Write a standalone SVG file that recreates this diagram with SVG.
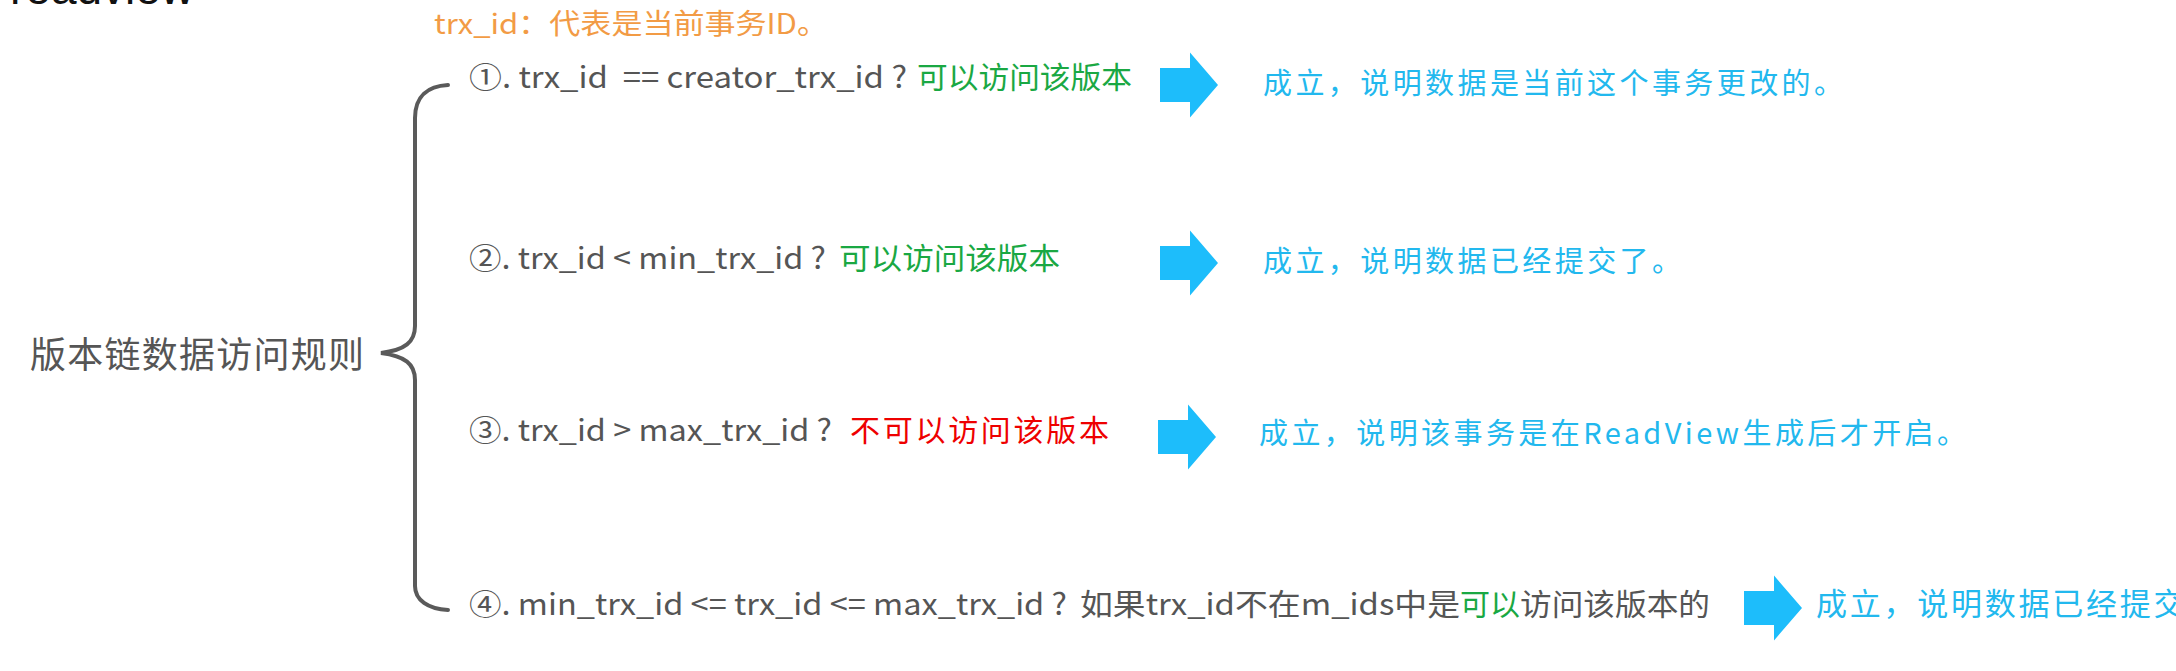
<svg xmlns="http://www.w3.org/2000/svg" width="2176" height="671" viewBox="0 0 2176 671">
<defs>
<style>
text{font-family:"Noto Sans CJK SC","Noto Sans",sans-serif;font-size:30px;white-space:pre;}
.g{fill:#555555;}
.ok{fill:#1aa843;}
.no{fill:#ee0000;}
.b{fill:#22b8ee;font-size:29px;}
.o{fill:#f29b45;font-size:28px;}
.arr{fill:#1dbdfb;}
.brace{fill:none;stroke:#5a5a5a;stroke-width:4;stroke-linecap:round;}
</style>
<path id="blk" d="M0 -17 H30 V-32.5 L58 0 L30 32.5 V17 H0 Z"/>
</defs>
<rect width="2176" height="671" fill="#ffffff"/>
<text x="10" y="4" style="font-family:'Liberation Sans',sans-serif;font-size:46px;fill:#111">readview</text>
<g id="note"><text class="o" x="434" y="34" textLength="394" lengthAdjust="spacingAndGlyphs">trx_id：代表是当前事务ID。</text></g>
<g id="root"><text class="g" x="30" y="368" style="font-size:36px" textLength="334">版本链数据访问规则</text></g>
<g id="connectors">
<path class="brace" d="M448 85 C428 86 415 96 415 118 L415 326 C415 342 405 350 381 353 C405 356 415 364 415 380 L415 586 C415 600 428 609 448 610"/>
<use href="#blk" class="arr" x="1160" y="85"/>
<use href="#blk" class="arr" x="1160" y="263"/>
<use href="#blk" class="arr" x="1158" y="437"/>
<use href="#blk" class="arr" x="1744" y="608"/>
</g>
<g id="rule1">
<text class="g" x="469" y="88" textLength="438" lengthAdjust="spacingAndGlyphs">①. trx_id  == creator_trx_id ?</text>
<text class="ok" x="917" y="88" textLength="215" lengthAdjust="spacingAndGlyphs">可以访问该版本</text>
</g>
<g id="result1"><text class="b" x="1263" y="94" textLength="580">成立，说明数据是当前这个事务更改的。</text></g>
<g id="rule2">
<text class="g" x="469" y="269" textLength="357" lengthAdjust="spacingAndGlyphs">②. trx_id &lt; min_trx_id ?</text>
<text class="ok" x="839" y="269" textLength="221" lengthAdjust="spacingAndGlyphs">可以访问该版本</text>
</g>
<g id="result2"><text class="b" x="1263" y="272" textLength="418">成立，说明数据已经提交了。</text></g>
<g id="rule3">
<text class="g" x="469" y="441" textLength="363" lengthAdjust="spacingAndGlyphs">③. trx_id &gt; max_trx_id ?</text>
<text class="no" x="850" y="441" textLength="259">不可以访问该版本</text>
</g>
<g id="result3"><text class="b" x="1259" y="444" textLength="707">成立，说明该事务是在ReadView生成后才开启。</text></g>
<g id="rule4">
<text class="g" x="469" y="615" textLength="598" lengthAdjust="spacingAndGlyphs">④. min_trx_id &lt;= trx_id &lt;= max_trx_id ?</text>
<text class="g" x="1080" y="615" textLength="380" lengthAdjust="spacingAndGlyphs">如果trx_id不在m_ids中是</text>
<text class="ok" x="1460" y="615" textLength="60" lengthAdjust="spacingAndGlyphs">可以</text>
<text class="g" x="1520" y="615" textLength="190" lengthAdjust="spacingAndGlyphs">访问该版本的</text>
</g>
<g id="result4"><text class="b" x="1816" y="615" style="font-size:31px" textLength="436">成立，说明数据已经提交了。</text></g>
</svg>
